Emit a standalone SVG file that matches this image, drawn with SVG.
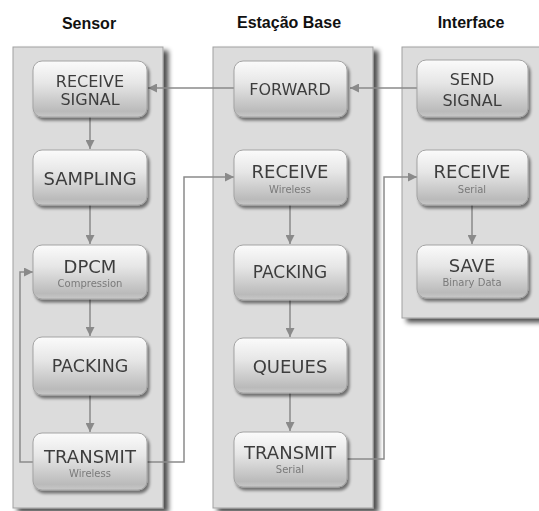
<svg xmlns="http://www.w3.org/2000/svg" width="539" height="511" viewBox="0 0 539 511">
<style>
.title{font-family:"Liberation Sans",Arial,sans-serif;font-weight:bold;font-size:16px;fill:#111;text-anchor:middle}
.panel{fill:#dcdcdc;stroke:#a0a0a0;stroke-width:1}
.node rect{fill:url(#ng);stroke:#a3a3a3;stroke-width:1}
.lbl{font-family:"DejaVu Sans",Verdana,sans-serif;fill:#3e3e3e;text-anchor:middle}
.big{font-size:18px}
.mid{font-size:16px}
.sub{font-family:"DejaVu Sans",Verdana,sans-serif;font-size:10px;fill:#7a7a7a;text-anchor:middle}
.c{fill:none;stroke:#8a8a8a;stroke-width:1.5}
</style>
<defs>
<linearGradient id="ng" x1="0" y1="0" x2="0" y2="1">
<stop offset="0" stop-color="#fbfbfb"/>
<stop offset="0.4" stop-color="#e6e6e6"/>
<stop offset="0.9" stop-color="#bababa"/>
<stop offset="1" stop-color="#c8c8c8"/>
</linearGradient>
<filter id="ps" x="-10%" y="-5%" width="130%" height="115%">
<feGaussianBlur in="SourceAlpha" stdDeviation="2.5"/>
<feOffset dx="5" dy="4" result="b"/>
<feComponentTransfer><feFuncA type="linear" slope="0.7"/></feComponentTransfer>
<feMerge><feMergeNode/><feMergeNode in="SourceGraphic"/></feMerge>
</filter>
<filter id="ns" x="-10%" y="-10%" width="130%" height="140%">
<feGaussianBlur in="SourceAlpha" stdDeviation="1.8"/>
<feOffset dx="2" dy="3" result="b"/>
<feComponentTransfer><feFuncA type="linear" slope="0.5"/></feComponentTransfer>
<feMerge><feMergeNode/><feMergeNode in="SourceGraphic"/></feMerge>
</filter>
<marker id="ah" viewBox="0 0 10 10" refX="10" refY="5" markerWidth="10" markerHeight="9" markerUnits="userSpaceOnUse" orient="auto">
<path d="M0,0 L10,5 L0,10 z" fill="#8a8a8a"/>
</marker>
</defs>
<rect width="539" height="511" fill="#fff"/>

<g id="panels">
<rect class="panel" x="13" y="47" width="150" height="461" filter="url(#ps)"/>
<rect class="panel" x="213" y="47" width="160" height="461" filter="url(#ps)"/>
<rect class="panel" x="402" y="47" width="145" height="271" filter="url(#ps)"/>
</g>

<g id="titles">
<text class="title" x="89" y="29">Sensor</text>
<text class="title" x="289" y="28">Estação Base</text>
<text class="title" x="471" y="28">Interface</text>
</g>

<g id="connectors">
<line class="c" x1="90" y1="117" x2="90" y2="149" marker-end="url(#ah)"/>
<line class="c" x1="90" y1="205" x2="90" y2="244" marker-end="url(#ah)"/>
<line class="c" x1="90" y1="299" x2="90" y2="336" marker-end="url(#ah)"/>
<line class="c" x1="90" y1="395" x2="90" y2="432" marker-end="url(#ah)"/>
<line class="c" x1="290" y1="205" x2="290" y2="244" marker-end="url(#ah)"/>
<line class="c" x1="290" y1="300" x2="290" y2="337" marker-end="url(#ah)"/>
<line class="c" x1="290" y1="393" x2="290" y2="431" marker-end="url(#ah)"/>
<line class="c" x1="472" y1="205" x2="472" y2="244" marker-end="url(#ah)"/>
<line class="c" x1="417" y1="88" x2="350" y2="88" marker-end="url(#ah)"/>
<line class="c" x1="234" y1="88" x2="148" y2="88" marker-end="url(#ah)"/>
<polyline class="c" points="147,462 184,462 184,177 234,177" marker-end="url(#ah)"/>
<polyline class="c" points="33,462 20,462 20,272 33,272" marker-end="url(#ah)"/>
<polyline class="c" points="347,459 384,459 384,177 417,177" marker-end="url(#ah)"/>
</g>

<g id="n-receive-signal" class="node" filter="url(#ns)">
<rect x="33" y="61" width="114" height="56" rx="9"/>
<text class="lbl mid" x="90" y="87">RECEIVE</text>
<text class="lbl mid" x="90" y="105">SIGNAL</text>
</g>
<g id="n-sampling" class="node" filter="url(#ns)">
<rect x="33" y="150" width="114" height="55" rx="9"/>
<text class="lbl big" x="90" y="185">SAMPLING</text>
</g>
<g id="n-dpcm" class="node" filter="url(#ns)">
<rect x="33" y="245" width="114" height="54" rx="9"/>
<text class="lbl big" x="90" y="273">DPCM</text>
<text class="sub" x="90" y="287">Compression</text>
</g>
<g id="n-packing-s" class="node" filter="url(#ns)">
<rect x="33" y="337" width="114" height="58" rx="9"/>
<text class="lbl" x="90" y="372" font-size="17.5">PACKING</text>
</g>
<g id="n-transmit-s" class="node" filter="url(#ns)">
<rect x="33" y="433" width="114" height="57" rx="9"/>
<text class="lbl big" x="90" y="463">TRANSMIT</text>
<text class="sub" x="90" y="477">Wireless</text>
</g>

<g id="n-forward" class="node" filter="url(#ns)">
<rect x="234" y="61" width="113" height="56" rx="9"/>
<text class="lbl mid" x="290" y="95">FORWARD</text>
</g>
<g id="n-receive-b" class="node" filter="url(#ns)">
<rect x="234" y="150" width="113" height="55" rx="9"/>
<text class="lbl big" x="290" y="178">RECEIVE</text>
<text class="sub" x="290" y="193">Wireless</text>
</g>
<g id="n-packing-b" class="node" filter="url(#ns)">
<rect x="234" y="245" width="113" height="55" rx="9"/>
<text class="lbl" x="290" y="278" font-size="17">PACKING</text>
</g>
<g id="n-queues" class="node" filter="url(#ns)">
<rect x="234" y="338" width="113" height="55" rx="9"/>
<text class="lbl big" x="290" y="373">QUEUES</text>
</g>
<g id="n-transmit-b" class="node" filter="url(#ns)">
<rect x="234" y="432" width="113" height="55" rx="9"/>
<text class="lbl big" x="290" y="459">TRANSMIT</text>
<text class="sub" x="290" y="473">Serial</text>
</g>

<g id="n-send-signal" class="node" filter="url(#ns)">
<rect x="417" y="60" width="111" height="57" rx="9"/>
<text class="lbl mid" x="472" y="85">SEND</text>
<text class="lbl mid" x="472" y="106">SIGNAL</text>
</g>
<g id="n-receive-i" class="node" filter="url(#ns)">
<rect x="417" y="150" width="111" height="55" rx="9"/>
<text class="lbl big" x="472" y="178">RECEIVE</text>
<text class="sub" x="472" y="193">Serial</text>
</g>
<g id="n-save" class="node" filter="url(#ns)">
<rect x="417" y="245" width="111" height="53" rx="9"/>
<text class="lbl big" x="472" y="272">SAVE</text>
<text class="sub" x="472" y="286">Binary Data</text>
</g>
</svg>
